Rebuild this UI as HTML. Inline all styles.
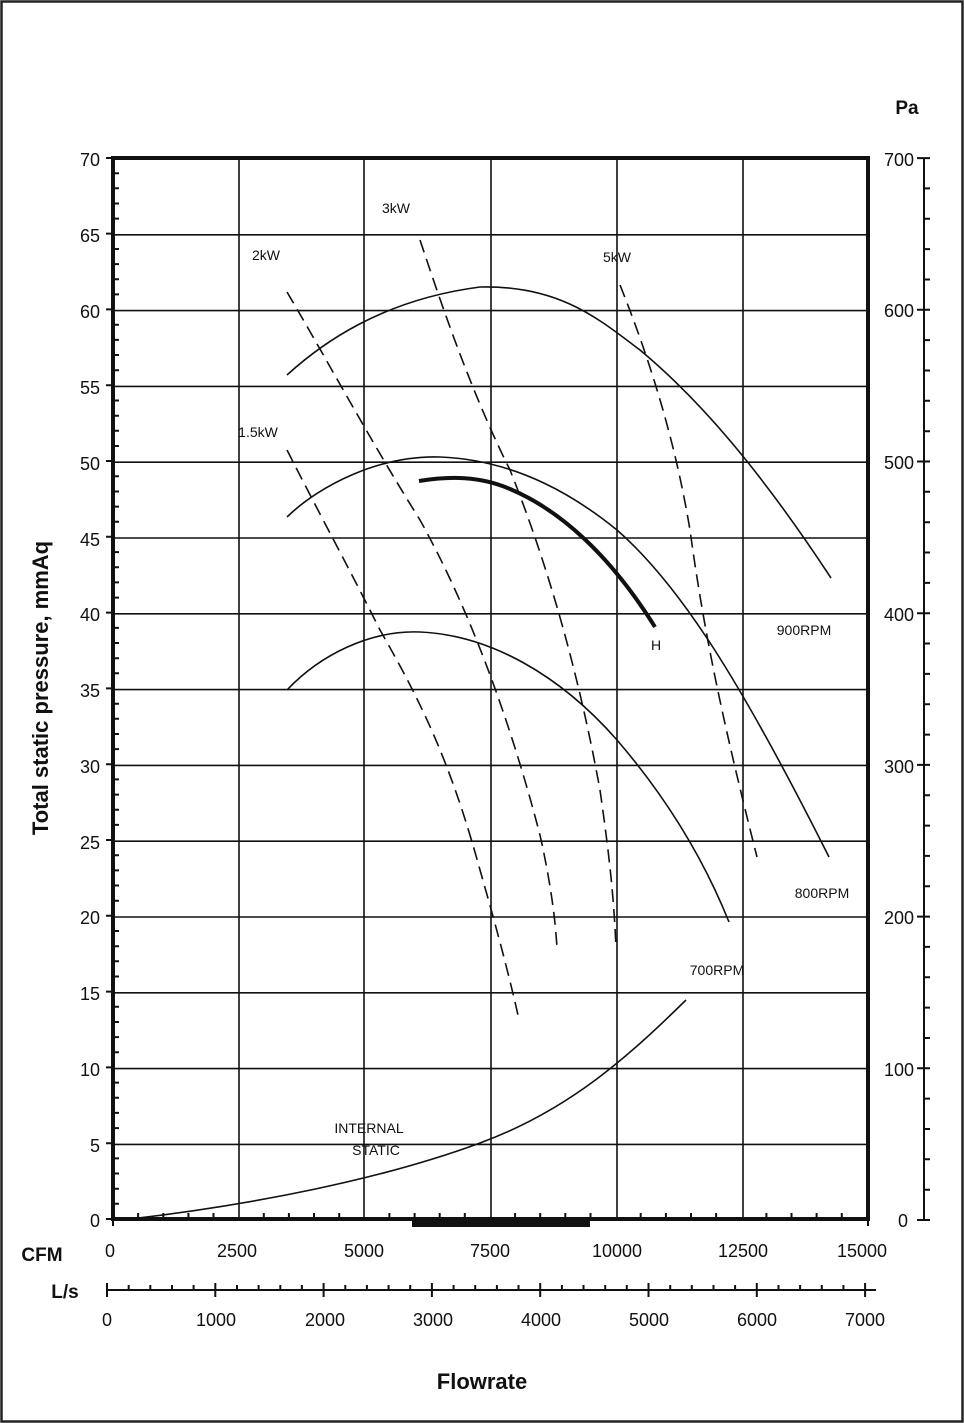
<!DOCTYPE html>
<html><head><style>
html,body{margin:0;padding:0;background:#fff}
svg{display:block}
text{font-family:"Liberation Sans",Arial,sans-serif;fill:#111}
</style></head><body>
<svg width="964" height="1423" viewBox="0 0 964 1423" xmlns="http://www.w3.org/2000/svg">
<rect x="1.5" y="1.5" width="961" height="1420" fill="#fff" stroke="#222" stroke-width="2.5"/>
<g stroke="#111" stroke-width="1.6" fill="none">
<path d="M113 234.8H868M113 310.6H868M113 386.4H868M113 462.2H868M113 538H868M113 613.8H868M113 689.6H868M113 765.4H868M113 841.2H868M113 917H868M113 992.8H868M113 1068.6H868M113 1144.4H868"/>
<path d="M239 158V1219M364 158V1219M491 158V1219M617 158V1219M743 158V1219"/>
</g>
<rect x="113" y="158" width="755" height="1061" fill="none" stroke="#111" stroke-width="4"/>
<g stroke="#111" stroke-width="2" fill="none">
<path d="M113 1203.8h6M113 1188.7h6M113 1173.5h6M113 1158.4h6M113 1128.1h6M113 1112.9h6M113 1097.7h6M113 1082.6h6M113 1052.3h6M113 1037.1h6M113 1022h6M113 1006.8h6M113 976.5h6M113 961.3h6M113 946.2h6M113 931h6M113 900.7h6M113 885.5h6M113 870.4h6M113 855.2h6M113 824.9h6M113 809.8h6M113 794.6h6M113 779.4h6M113 749.1h6M113 734h6M113 718.8h6M113 703.7h6M113 673.3h6M113 658.2h6M113 643h6M113 627.9h6M113 597.6h6M113 582.4h6M113 567.2h6M113 552.1h6M113 521.8h6M113 506.6h6M113 491.5h6M113 476.3h6M113 446h6M113 430.8h6M113 415.7h6M113 400.5h6M113 370.2h6M113 355h6M113 339.9h6M113 324.7h6M113 294.4h6M113 279.2h6M113 264.1h6M113 249h6M113 218.6h6M113 203.5h6M113 188.3h6M113 173.2h6"/>
<path d="M106 1219h7M106 1143.2h7M106 1067.4h7M106 991.6h7M106 915.8h7M106 840h7M106 764.2h7M106 688.4h7M106 612.6h7M106 536.8h7M106 461h7M106 385.2h7M106 309.4h7M106 233.6h7M106 158h7"/>
<path d="M138.1 1219v-6M163.3 1219v-6M188.4 1219v-6M213.5 1219v-6M263.8 1219v-6M288.9 1219v-6M314 1219v-6M339.2 1219v-6M389.4 1219v-6M414.6 1219v-6M439.7 1219v-6M464.8 1219v-6M515.1 1219v-6M540.2 1219v-6M565.3 1219v-6M590.5 1219v-6M640.7 1219v-6M665.9 1219v-6M691 1219v-6M716.1 1219v-6M766.4 1219v-6M791.5 1219v-6M816.6 1219v-6M841.8 1219v-6M113 1219v7M868 1219v7"/>
<path d="M924 158V1220M917 1220h13M917 1068.3h13M917 916.6h13M917 764.9h13M917 613.2h13M917 461.5h13M917 309.8h13M917 158.1h13"/>
<path d="M924 1189.7h6M924 1159.3h6M924 1129h6M924 1098.6h6M924 1038h6M924 1007.6h6M924 977.3h6M924 946.9h6M924 886.3h6M924 855.9h6M924 825.6h6M924 795.2h6M924 734.6h6M924 704.2h6M924 673.9h6M924 643.5h6M924 582.9h6M924 552.5h6M924 522.2h6M924 491.8h6M924 431.2h6M924 400.8h6M924 370.5h6M924 340.1h6M924 279.5h6M924 249.1h6M924 218.8h6M924 188.4h6"/>
<path d="M107 1290H876M107 1283v14M215.3 1283v14M323.6 1283v14M431.9 1283v14M540.2 1283v14M648.5 1283v14M756.8 1283v14M865.1 1283v14"/>
<path d="M128.7 1285v5M150.3 1285v5M172 1285v5M193.6 1285v5M237 1285v5M258.6 1285v5M280.3 1285v5M301.9 1285v5M345.3 1285v5M366.9 1285v5M388.6 1285v5M410.2 1285v5M453.6 1285v5M475.2 1285v5M496.9 1285v5M518.5 1285v5M561.9 1285v5M583.5 1285v5M605.2 1285v5M626.8 1285v5M670.2 1285v5M691.8 1285v5M713.5 1285v5M735.1 1285v5M778.5 1285v5M800.1 1285v5M821.8 1285v5M843.4 1285v5"/>
</g>
<rect x="412" y="1218" width="178" height="9" fill="#111"/>
<g fill="none" stroke="#111" stroke-width="1.6" stroke-linejoin="round">
<path d="M287 375C320 345 380 300 480 287C560 285 600 320 640 350C700 400 760 470 831 578"/>
<path d="M287 517C320 485 380 455 440 457C520 460 580 500 617 530C680 585 740 680 829 857"/>
<path d="M287 690C320 655 370 630 420 632C490 635 560 675 617 740C660 790 700 850 729 922"/>
<path d="M130 1219C250 1205 380 1180 480 1143C570 1110 630 1055 686 1000"/>
</g>
<path d="M419 481C450 476 480 476 510 489C560 510 610 555 655 627" fill="none" stroke="#111" stroke-width="4"/>
<g fill="none" stroke="#111" stroke-width="1.6" stroke-dasharray="13,7">
<path d="M287 450C320 515 350 570 380 630C420 700 450 760 480 870C500 940 510 980 518 1015"/>
<path d="M287 292C330 365 370 440 420 520C470 610 510 720 540 835C550 880 555 915 557 948"/>
<path d="M420 240C440 300 470 390 510 470C550 570 580 680 600 790C610 860 614 900 616 948"/>
<path d="M620 285C650 360 675 440 690 530C705 640 725 730 757 857"/>
</g>
<g font-size="14">
<text x="396" y="213" text-anchor="middle">3kW</text>
<text x="266" y="260" text-anchor="middle">2kW</text>
<text x="617" y="262" text-anchor="middle">5kW</text>
<text x="258" y="437" text-anchor="middle">1.5kW</text>
<text x="804" y="635" text-anchor="middle">900RPM</text>
<text x="822" y="898" text-anchor="middle">800RPM</text>
<text x="717" y="975" text-anchor="middle">700RPM</text>
<text x="656" y="650" text-anchor="middle">H</text>
<text x="369" y="1133" text-anchor="middle">INTERNAL</text>
<text x="376" y="1155" text-anchor="middle">STATIC</text>
</g>
<g font-size="18" text-anchor="end">
<text x="100" y="166">70</text><text x="100" y="242">65</text><text x="100" y="318">60</text>
<text x="100" y="394">55</text><text x="100" y="470">50</text><text x="100" y="546">45</text>
<text x="100" y="621">40</text><text x="100" y="697">35</text><text x="100" y="773">30</text>
<text x="100" y="849">25</text><text x="100" y="924">20</text><text x="100" y="1000">15</text>
<text x="100" y="1076">10</text><text x="100" y="1152">5</text><text x="100" y="1227">0</text>
</g>
<g font-size="18" text-anchor="end">
<text x="914" y="166">700</text><text x="914" y="317">600</text><text x="914" y="469">500</text>
<text x="914" y="621">400</text><text x="914" y="773">300</text><text x="914" y="924">200</text>
<text x="914" y="1076">100</text><text x="908" y="1227">0</text>
</g>
<g font-size="18" text-anchor="middle">
<text x="110" y="1257">0</text><text x="237" y="1257">2500</text><text x="364" y="1257">5000</text>
<text x="490" y="1257">7500</text><text x="617" y="1257">10000</text><text x="743" y="1257">12500</text>
<text x="862" y="1257">15000</text>
<text x="107" y="1326">0</text><text x="216" y="1326">1000</text><text x="325" y="1326">2000</text>
<text x="433" y="1326">3000</text><text x="541" y="1326">4000</text><text x="649" y="1326">5000</text>
<text x="757" y="1326">6000</text><text x="865" y="1326">7000</text>
</g>
<g font-weight="bold">
<text x="42" y="1261" font-size="19" text-anchor="middle">CFM</text>
<text x="65" y="1298" font-size="19" text-anchor="middle">L/s</text>
<text x="907" y="114" font-size="19" text-anchor="middle">Pa</text>
<text x="482" y="1389" font-size="22" text-anchor="middle">Flowrate</text>
<text transform="translate(48,688) rotate(-90)" font-size="22" text-anchor="middle">Total static pressure, mmAq</text>
</g>
</svg>
</body></html>
